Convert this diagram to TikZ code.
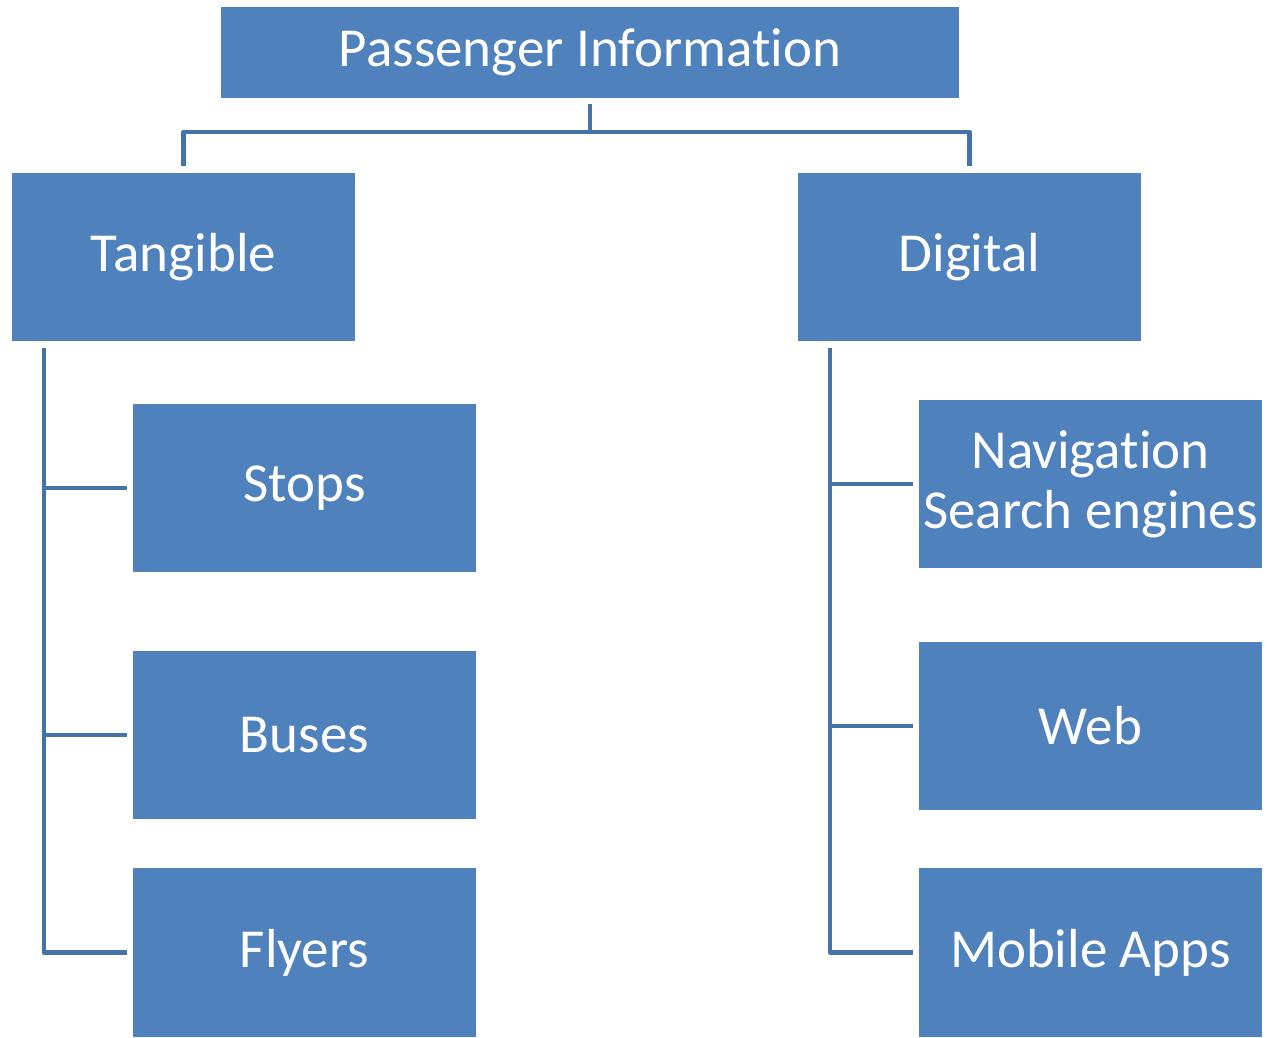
\documentclass[tikz,border=0pt]{standalone}
\usepackage{fontspec}
\setmainfont{Carlito}[Ligatures=NoCommon]
\usetikzlibrary{calc}
\definecolor{boxblue}{HTML}{4F81BD}
\definecolor{lineblue}{HTML}{4672AA}
\begin{document}
\begin{tikzpicture}[x=1pt,y=-1pt,
  box/.style={fill=boxblue, draw=none, text=white, align=center,
    minimum width=343pt, minimum height=168pt, inner sep=0pt,
    font=\fontsize{55}{60}\selectfont},
  conn/.style={draw=lineblue, line width=4.5pt, line join=round}]
\useasboundingbox (0,0) rectangle (1267,1037);
\node[box, minimum width=738pt, minimum height=91pt] (top) at (590,52.5) {Passenger Information};
\node[box] (tang) at (183.5,257) {Tangible};
\node[box] (dig) at (969.5,257) {Digital};
\node[box] (stops) at (304.5,488) {Stops};
\node[box] (buses) at (304.5,735) {Buses};
\node[box, minimum height=169pt] (flyers) at (304.5,952.5) {Flyers};
\node[box] (nav) at (1090.5,484) {Navigation\\Search engines};
\node[box] (web) at (1090.5,726) {Web};
\node[box, minimum height=169pt] (mob) at (1090.5,952.5) {Mobile Apps};
% top connectors
\coordinate (j) at ($(top.south)+(0,34)$);
\draw[conn, shorten <=6pt] (top.south) -- (j);
\draw[conn, shorten >=7pt] (j) -| (tang.north);
\draw[conn, shorten >=7pt] (j) -| (dig.north);
% left trunk
\coordinate (lt) at ($(tang.south west)+(32,7)$);
\draw[conn, shorten >=6pt] (lt) |- (flyers.west);
\draw[conn, shorten >=6pt] (lt |- stops.west) -- (stops.west);
\draw[conn, shorten >=6pt] (lt |- buses.west) -- (buses.west);
% right trunk
\coordinate (rt) at ($(dig.south west)+(32,7)$);
\draw[conn, shorten >=6pt] (rt) |- (mob.west);
\draw[conn, shorten >=6pt] (rt |- nav.west) -- (nav.west);
\draw[conn, shorten >=6pt] (rt |- web.west) -- (web.west);
\end{tikzpicture}
\end{document}
